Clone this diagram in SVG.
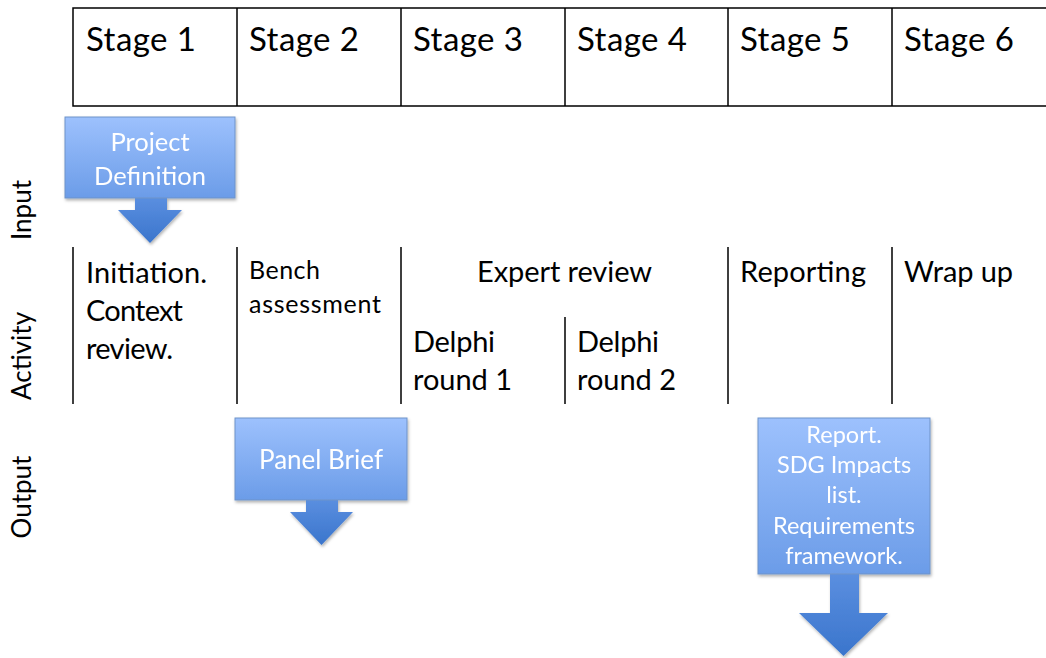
<svg xmlns="http://www.w3.org/2000/svg" width="1046" height="658" viewBox="0 0 1046 658">
<style>
.t{font-family:Lato,"Open Sans","Liberation Sans",sans-serif;fill:#000}
.w{font-family:Lato,"Open Sans","Liberation Sans",sans-serif;fill:#fff;text-anchor:middle}
.ln{stroke:#000;stroke-width:1.5;fill:none}
.box{fill:url(#g);stroke:#6f93c9;stroke-width:1}
.head{fill:url(#h)}
</style>
<defs>
<linearGradient id="g" x1="0" y1="0" x2="0" y2="1">
<stop offset="0" stop-color="#9dc1fd"/><stop offset="1" stop-color="#6b9ce8"/>
</linearGradient>
<linearGradient id="h" x1="0" y1="0" x2="0" y2="1">
<stop offset="0" stop-color="#5b8fe0"/><stop offset="1" stop-color="#3a75cc"/>
</linearGradient>
<filter id="sh" x="-10%" y="-10%" width="130%" height="130%">
<feDropShadow dx="1" dy="2" stdDeviation="1.5" flood-color="#000" flood-opacity="0.3"/>
</filter>
</defs>
<rect width="1046" height="658" fill="#fff"/>
<g id="header">
<path class="ln" d="M1046 8H73V106H1046"/>
<path class="ln" d="M237 8V106M401 8V106M565 8V106M728 8V106M892 8V106"/>
<text class="t" font-size="33" x="86" y="51" textLength="110">Stage 1</text>
<text class="t" font-size="33" x="249" y="51" textLength="110">Stage 2</text>
<text class="t" font-size="33" x="413" y="51" textLength="110">Stage 3</text>
<text class="t" font-size="33" x="577" y="51" textLength="110">Stage 4</text>
<text class="t" font-size="33" x="740" y="51" textLength="110">Stage 5</text>
<text class="t" font-size="33" x="904" y="51" textLength="110">Stage 6</text>
</g>
<g id="rowlabels">
<text class="t" font-size="26" text-anchor="middle" transform="translate(31 210) rotate(-90)">Input</text>
<text class="t" font-size="26" text-anchor="middle" transform="translate(31 356) rotate(-90)">Activity</text>
<text class="t" font-size="26" text-anchor="middle" transform="translate(31 497) rotate(-90)">Output</text>
</g>
<g id="connectors">
<path class="ln" d="M73 247V404M237 247V404M401 247V404M565 317V404M728 247V404M892 247V404"/>
</g>
<g id="activities">
<text class="t" font-size="29" x="86" y="283" textLength="121">Initiation.</text>
<text class="t" font-size="29" x="86" y="321" textLength="97">Context</text>
<text class="t" font-size="29" x="86" y="359" textLength="87">review.</text>
<text class="t" font-size="25" x="249" y="279" textLength="71">Bench</text>
<text class="t" font-size="25" x="249" y="313" textLength="132">assessment</text>
<text class="t" font-size="29" x="477" y="282" textLength="175">Expert review</text>
<text class="t" font-size="29" x="413" y="352" textLength="82">Delphi</text>
<text class="t" font-size="29" x="413" y="390" textLength="99">round 1</text>
<text class="t" font-size="29" x="577" y="352" textLength="82">Delphi</text>
<text class="t" font-size="29" x="577" y="390" textLength="99">round 2</text>
<text class="t" font-size="29" x="740" y="282" textLength="126">Reporting</text>
<text class="t" font-size="29" x="904" y="282" textLength="109">Wrap up</text>
</g>
<g id="project-definition" filter="url(#sh)">
<path class="head" d="M135 197H167V210H182L150 243L118 210H135Z"/>
<rect class="box" x="65" y="117" width="170" height="81"/>
<text class="w" font-size="25.5"><tspan x="150" y="151">Project</tspan><tspan x="150" y="185">Definition</tspan></text>
</g>
<g id="panel-brief" filter="url(#sh)">
<path class="head" d="M306 499H338V512H353L321.5 545L290 512H306Z"/>
<rect class="box" x="235" y="418" width="172" height="82"/>
<text class="w" font-size="26" x="321" y="469">Panel Brief</text>
</g>
<g id="report" filter="url(#sh)">
<path class="head" d="M830 573H859V613H888L843.5 656L799 613H830Z"/>
<rect class="box" x="758" y="418" width="172" height="156"/>
<text class="w" font-size="23.5"><tspan x="844" y="443">Report.</tspan><tspan x="844" y="473">SDG Impacts</tspan><tspan x="844" y="503">list.</tspan><tspan x="844" y="534">Requirements</tspan><tspan x="844" y="564">framework.</tspan></text>
</g>
</svg>
